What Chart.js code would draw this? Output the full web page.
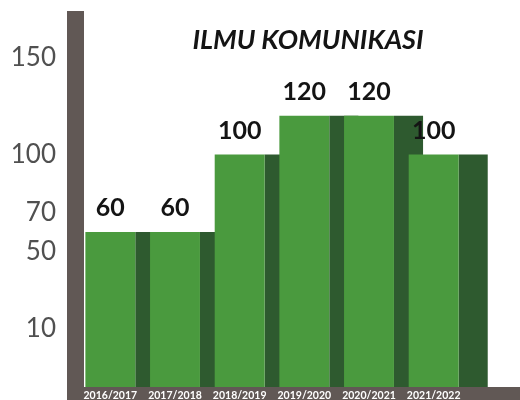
<!DOCTYPE html>
<html>
<head>
<meta charset="utf-8">
<script src="https://cdn.jsdelivr.net/npm/chart.js@4"></script>
<style>
  html, body { margin: 0; padding: 0; background: #ffffff; }
  #wrap { width: 520px; height: 400px; }
</style>
</head>
<body>
<div id="wrap"><canvas id="c" width="520" height="400"></canvas></div>
<script>
const categories = ['2016/2017', '2017/2018', '2018/2019', '2019/2020', '2020/2021', '2021/2022'];
const values = [60, 60, 100, 120, 120, 100];
const yTickValues = [10, 50, 70, 100, 150];
const yTickLabels = ['10', '50', '70', '100', '150'];
const titleText = 'ILMU KOMUNIKASI';

const Y_MIN = -20;
const Y_MAX = 170;
const LIGHT = '#4a9a3e';
const DARK = '#2e5a2f';
const AXIS = '#615855';
const FRONT_PCT = 0.772;
const SHADOW_PCT = 0.45;

const shadowShift = {
  id: 'shadowShift',
  afterDatasetsUpdate(chart) {
    const xs = chart.scales.x;
    const cw = xs.width / categories.length;
    const meta = chart.getDatasetMeta(1);
    meta.data.forEach(el => {
      el.x += cw * FRONT_PCT / 2 + el.width / 2;
    });
  }
};

const decor = {
  id: 'decor',
  beforeDraw(chart) {
    const { ctx, chartArea } = chart;
    ctx.save();
    ctx.fillStyle = '#ffffff';
    ctx.fillRect(0, 0, chart.width, chart.height);
    ctx.fillStyle = AXIS;
    // vertical axis bar
    ctx.fillRect(chartArea.left - 11, chartArea.top - 8, 17, chart.height - chartArea.top + 8);
    // horizontal axis bar
    ctx.fillRect(chartArea.left - 11, chartArea.bottom, chart.width - chartArea.left + 11, chart.height - chartArea.bottom);
    ctx.restore();
  },
  afterDatasetsDraw(chart) {
    const { ctx, chartArea } = chart;
    const xs = chart.scales.x;
    ctx.save();
    ctx.fillStyle = '#141414';
    ctx.textAlign = 'center';
    ctx.textBaseline = 'alphabetic';
    ctx.font = 'bold 25px Lato';
    const meta = chart.getDatasetMeta(0);
    meta.data.forEach((el, i) => {
      ctx.fillText(String(values[i]), el.x, el.y - 16);
    });
    ctx.font = 'italic bold 27px Lato';
    ctx.fillText(titleText, (xs.left + xs.right) / 2 + 36, chartArea.top + 30);
    ctx.restore();
  }
};

new Chart(document.getElementById('c'), {
  type: 'bar',
  data: {
    labels: categories,
    datasets: [
      {
        data: values,
        base: Y_MIN,
        backgroundColor: LIGHT,
        barPercentage: FRONT_PCT,
        categoryPercentage: 1,
        grouped: false,
        clip: false
      },
      {
        data: values,
        base: Y_MIN,
        backgroundColor: DARK,
        barPercentage: SHADOW_PCT,
        categoryPercentage: 1,
        grouped: false,
        clip: false
      }
    ]
  },
  options: {
    responsive: false,
    animation: false,
    events: [],
    layout: { padding: { top: 19, right: 54, bottom: 0, left: 0 } },
    plugins: {
      legend: { display: false },
      tooltip: { enabled: false },
      title: { display: false }
    },
    scales: {
      x: {
        grid: { display: false, drawTicks: false },
        border: { display: false },
        ticks: {
          color: '#ffffff',
          font: { family: 'Lato', weight: 'bold', size: 10.5 },
          padding: 2,
          maxRotation: 0,
          autoSkip: false
        },
        afterFit(s) { s.height = 13; s.paddingLeft = 0; s.paddingRight = 0; }
      },
      y: {
        min: Y_MIN,
        max: Y_MAX,
        afterBuildTicks(s) { s.ticks = yTickValues.map(v => ({ value: v })); },
        grid: { display: false, drawTicks: false },
        border: { display: false },
        ticks: {
          color: '#505050',
          font: { family: 'Lato', size: 26 },
          padding: 22,
          callback(v) { const i = yTickValues.indexOf(v); return i >= 0 ? yTickLabels[i] : ''; }
        },
        afterFit(s) { s.width = 78; s.paddingTop = 0; s.paddingBottom = 0; }
      }
    }
  },
  plugins: [shadowShift, decor]
});
</script>
</body>
</html>
